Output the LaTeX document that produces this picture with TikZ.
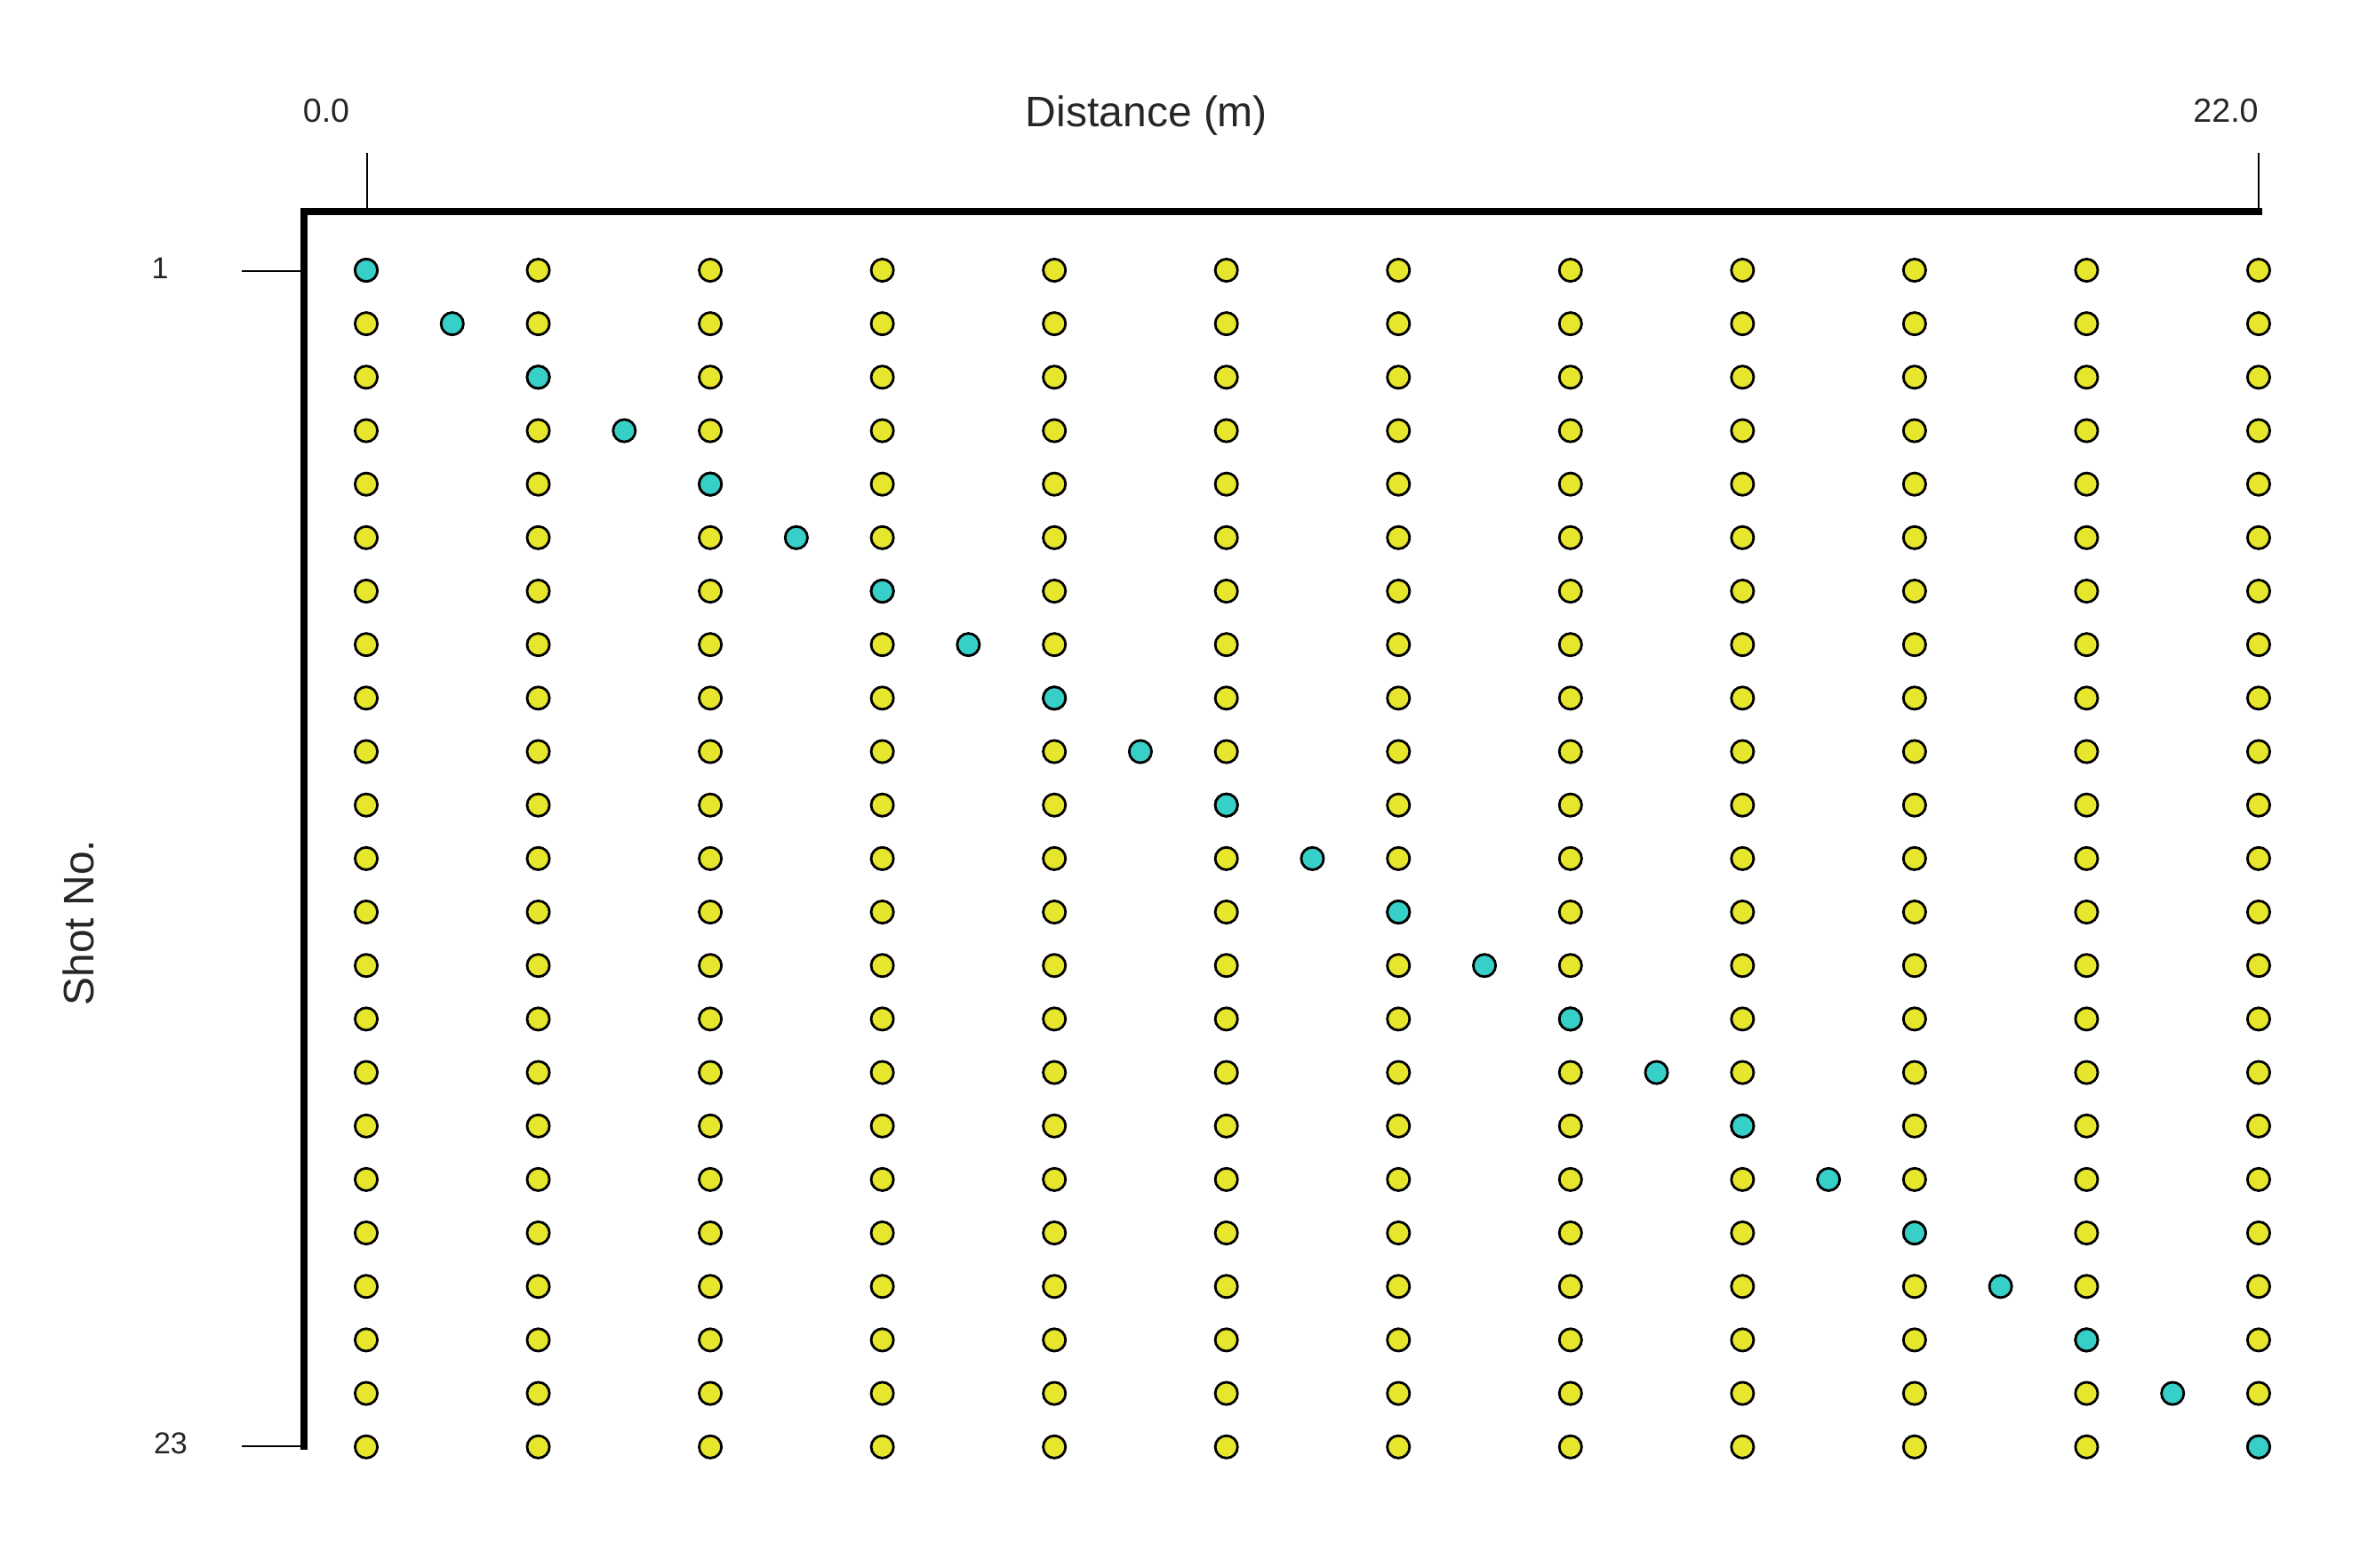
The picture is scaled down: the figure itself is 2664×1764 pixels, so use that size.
\documentclass[tikz,border=0pt]{standalone}
\usepackage{fontspec}
\setmainfont{Liberation Sans}
\definecolor{dotyellow}{RGB}{230,230,45}
\definecolor{dotcyan}{RGB}{55,208,200}
\begin{document}
\begin{tikzpicture}[x=0.25pt,y=-0.25pt,
  axis/.style={line width=2pt,line cap=rect},
  tickline/.style={line width=0.6pt},
  ydot/.style={circle,draw=black,line width=0.7pt,fill=dotyellow,minimum size=6.3pt,inner sep=0pt},
  cdot/.style={circle,draw=black,line width=0.7pt,fill=dotcyan,minimum size=6.3pt,inner sep=0pt},
  toplabel/.style={font=\fontsize{9.4}{11}\selectfont,text=black!85},
  leftlabel/.style={font=\fontsize{8.5}{10}\selectfont,text=black!85},
  title/.style={font=\fontsize{12}{14}\selectfont,text=black!85}]
\useasboundingbox[fill=white] (0,0) rectangle (2664,1764);
% axes
\coordinate (corner) at (342,238);
\coordinate (xend) at (2541,238);
\coordinate (ybot) at (342,1627);
\draw[axis] (xend) -- (corner) -- (ybot);
% top ticks
\coordinate (t0) at (413,172);
\coordinate (t0b) at (413,238);
\coordinate (t22) at (2541,172);
\draw[tickline] (t0) -- (t0b);
\draw[tickline] (t22) -- (xend);
% left ticks
\coordinate (r1a) at (272,305);
\coordinate (r1b) at (342,305);
\coordinate (r23a) at (272,1627);
\draw[tickline] (r1a) -- (r1b);
\draw[tickline] (r23a) -- (ybot);
% labels
\node[toplabel] (l0) at (367,125) {0.0};
\node[toplabel] (l22) at (2504,125) {22.0};
\node[title] (xt) at (1290,130) {Distance (m)};
\node[leftlabel] (l1) at (180,302) {1};
\node[leftlabel] (l23) at (192,1624) {23};
\node[title,rotate=90] (yt) at (88,1038) {Shot No.};
% dots
\foreach \r in {1,...,23}{
  \pgfmathsetmacro{\yy}{304+(\r-1)*60.17}
  \foreach \c in {0,...,11}{
    \pgfmathsetmacro{\xx}{412+\c*2*96.77}
    \node[ydot] (y-\r-\c) at (\xx,\yy) {};
  }
  \pgfmathsetmacro{\cx}{412+(\r-1)*96.77}
  \node[cdot] (c-\r) at (\cx,\yy) {};
}
\end{tikzpicture}
\end{document}
